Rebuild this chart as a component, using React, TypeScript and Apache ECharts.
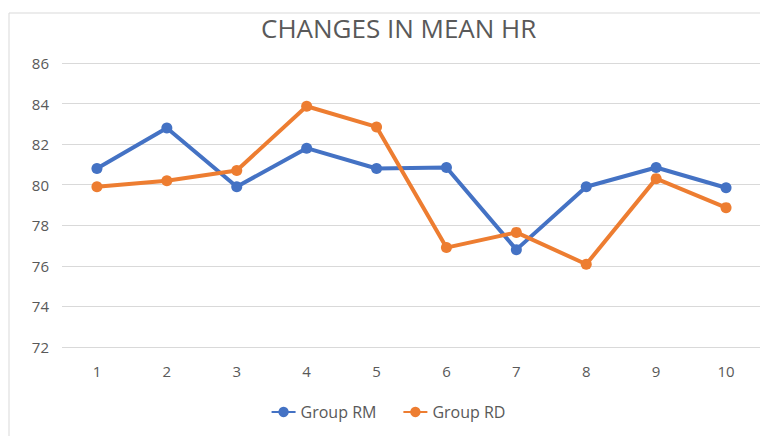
import React, { useEffect, useRef } from "react";
import * as echarts from "echarts";

const categories = ["1", "2", "3", "4", "5", "6", "7", "8", "9", "10"];
const groupRM = [80.8, 82.8, 79.9, 81.8, 80.8, 80.85, 76.8, 79.9, 80.85, 79.85];
const groupRD = [79.9, 80.2, 80.7, 83.87, 82.85, 76.9, 77.65, 76.08, 80.3, 78.87];
const yTicks = { min: 72, max: 86, interval: 2 };

export default function App() {
  const ref = useRef<HTMLDivElement>(null);
  useEffect(() => {
    if (!ref.current) return;
    const chart = echarts.init(ref.current, null, { renderer: "svg" });
    const font = "Open Sans";
    chart.setOption({
      animation: false,
      backgroundColor: "#ffffff",
      graphic: [
        {
          type: "rect",
          shape: { x: 1, y: 5, width: 800, height: 500 },
          style: { fill: "none", stroke: "#d9d9d9", lineWidth: 1 },
          silent: true,
        },
      ],
      title: {
        text: "CHANGES IN MEAN HR",
        left: 248,
        top: 2,
        textStyle: { fontFamily: font, fontSize: 26, fontWeight: "normal", color: "#595959" },
      },
      grid: { left: 54, right: 7, top: 55, bottom: 89, containLabel: false },
      legend: {
        top: 391,
        left: "center",
        itemGap: 26,
        itemWidth: 24,
        itemHeight: 13,
        textStyle: { fontFamily: font, fontSize: 16, color: "#595959" },
        data: ["Group RM", "Group RD"],
      },
      xAxis: {
        type: "category",
        data: categories,
        boundaryGap: true,
        axisLine: { show: false },
        axisTick: { show: false },
        axisLabel: { fontFamily: font, fontSize: 15, color: "#595959", margin: 16 },
      },
      yAxis: {
        type: "value",
        min: yTicks.min,
        max: yTicks.max,
        interval: yTicks.interval,
        axisLine: { show: false },
        axisTick: { show: false },
        splitLine: { lineStyle: { color: "#d9d9d9", width: 1 } },
        axisLabel: { fontFamily: font, fontSize: 15, color: "#595959", margin: 13 },
      },
      series: [
        {
          name: "Group RM",
          type: "line",
          data: groupRM,
          color: "#4472C4",
          symbol: "circle",
          symbolSize: 11,
          lineStyle: { width: 4, color: "#4472C4" },
          itemStyle: { color: "#4472C4" },
        },
        {
          name: "Group RD",
          type: "line",
          data: groupRD,
          color: "#ED7D31",
          symbol: "circle",
          symbolSize: 11,
          lineStyle: { width: 4, color: "#ED7D31" },
          itemStyle: { color: "#ED7D31" },
        },
      ],
    });
    return () => chart.dispose();
  }, []);
  return <div ref={ref} style={{ width: 760, height: 428 }} />;
}
